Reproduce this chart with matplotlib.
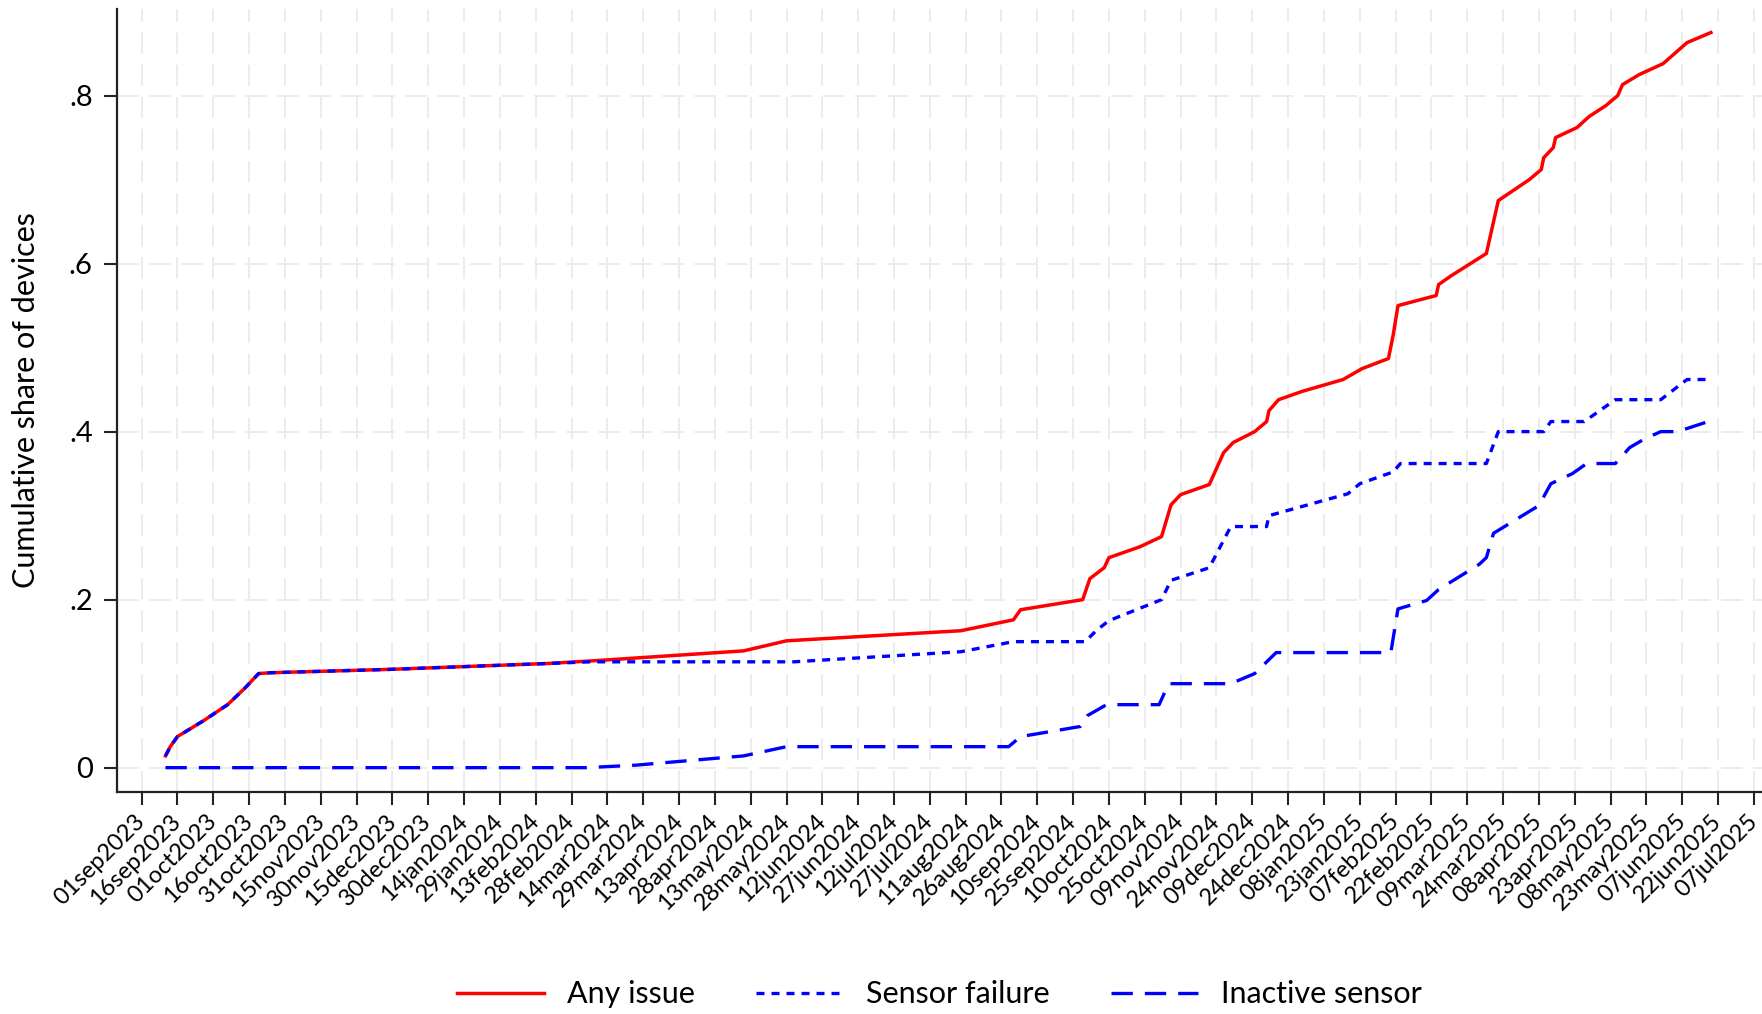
import matplotlib
matplotlib.use("Agg")
import matplotlib.pyplot as plt
import pandas as pd
from matplotlib.lines import Line2D

# Cumulative share of devices reporting each issue type
any_dates = [
    "2023-09-11", "2023-09-13", "2023-09-16", "2023-09-27", "2023-10-07", "2023-10-14",
    "2023-10-20", "2023-10-25", "2023-12-14", "2024-02-18", "2024-03-07", "2024-05-10",
    "2024-05-28", "2024-08-09", "2024-08-31", "2024-09-03", "2024-09-29", "2024-10-02",
    "2024-10-08", "2024-10-10", "2024-10-23", "2024-11-01", "2024-11-05", "2024-11-09",
    "2024-11-21", "2024-11-27", "2024-12-01", "2024-12-10", "2024-12-15", "2024-12-16",
    "2024-12-20", "2024-12-30", "2025-01-16", "2025-01-24", "2025-02-04", "2025-02-06",
    "2025-02-08", "2025-02-24", "2025-02-25", "2025-03-02", "2025-03-17", "2025-03-22",
    "2025-04-04", "2025-04-09", "2025-04-10", "2025-04-14", "2025-04-15", "2025-04-24",
    "2025-04-29", "2025-05-06", "2025-05-11", "2025-05-13", "2025-05-20", "2025-05-30",
    "2025-06-09", "2025-06-19",
]
any_share = [
    0.014, 0.025, 0.037, 0.056, 0.075, 0.094,
    0.112, 0.113, 0.117, 0.124, 0.127, 0.139,
    0.151, 0.163, 0.176, 0.188, 0.200, 0.225,
    0.238, 0.250, 0.263, 0.275, 0.313, 0.325,
    0.337, 0.375, 0.387, 0.400, 0.412, 0.425,
    0.438, 0.448, 0.462, 0.475, 0.487, 0.515,
    0.550, 0.562, 0.575, 0.585, 0.612, 0.675,
    0.700, 0.712, 0.726, 0.738, 0.750, 0.762,
    0.775, 0.788, 0.800, 0.813, 0.825, 0.838,
    0.863, 0.875,
]

failure_dates = [
    "2023-09-11", "2023-09-13", "2023-09-16", "2023-09-27", "2023-10-07", "2023-10-14",
    "2023-10-20", "2023-10-25", "2023-12-14", "2024-02-18", "2024-03-07", "2024-05-31",
    "2024-08-09", "2024-08-31", "2024-09-30", "2024-10-05", "2024-10-10", "2024-11-01",
    "2024-11-05", "2024-11-21", "2024-11-30", "2024-12-15", "2024-12-16", "2025-01-18",
    "2025-01-23", "2025-02-06", "2025-02-09", "2025-03-17", "2025-03-22", "2025-04-10",
    "2025-04-13", "2025-04-27", "2025-05-10", "2025-05-29", "2025-06-09", "2025-06-19",
]
failure_share = [
    0.014, 0.025, 0.037, 0.056, 0.075, 0.094,
    0.112, 0.113, 0.117, 0.124, 0.126, 0.126,
    0.138, 0.150, 0.150, 0.164, 0.175, 0.200,
    0.223, 0.238, 0.287, 0.287, 0.300, 0.326,
    0.338, 0.352, 0.362, 0.362, 0.400, 0.400,
    0.412, 0.412, 0.438, 0.438, 0.462, 0.462,
]

inactive_dates = [
    "2023-09-11", "2024-03-05", "2024-03-26", "2024-05-10", "2024-05-28", "2024-08-29",
    "2024-09-03", "2024-09-28", "2024-10-01", "2024-10-09", "2024-10-31", "2024-11-04",
    "2024-11-30", "2024-12-10", "2024-12-19", "2025-02-05", "2025-02-08", "2025-02-20",
    "2025-02-25", "2025-03-14", "2025-03-17", "2025-03-20", "2025-04-08", "2025-04-13",
    "2025-04-22", "2025-04-28", "2025-05-10", "2025-05-16", "2025-05-22", "2025-05-29",
    "2025-06-05", "2025-06-19",
]
inactive_share = [
    0.000, 0.000, 0.003, 0.014, 0.025, 0.025,
    0.037, 0.049, 0.062, 0.075, 0.075, 0.100,
    0.100, 0.112, 0.137, 0.137, 0.189, 0.199,
    0.212, 0.242, 0.250, 0.279, 0.312, 0.338,
    0.350, 0.362, 0.362, 0.381, 0.391, 0.400,
    0.400, 0.413,
]

series_labels = ["Any issue", "Sensor failure", "Inactive sensor"]
y_ticks = [0, 0.2, 0.4, 0.6, 0.8]
y_tick_labels = ["0", ".2", ".4", ".6", ".8"]
x_tick_start, x_tick_end = "2023-09-01", "2025-07-07"

plt.rcParams["font.family"] = ["Lato", "DejaVu Sans"]

fig = plt.figure(figsize=(17.62, 10.14), dpi=100)
ax = fig.add_axes([0.0664, 0.2189, 0.9336, 0.7722])

red = "#ff0000"
blue = "#0000ff"
dot_style = (0, (2.4, 2.1))
dash_style = (0, (6.4, 3.6))

ax.plot(pd.to_datetime(any_dates), any_share, color=red, lw=2.5,
        solid_joinstyle="round", zorder=3)
ax.plot(pd.to_datetime(failure_dates), failure_share, color=blue, lw=2.4,
        linestyle=dot_style, zorder=4)
ax.plot(pd.to_datetime(inactive_dates), inactive_share, color=blue, lw=2.4,
        linestyle=dash_style, zorder=4)

# Axes ranges
x0 = pd.Timestamp(x_tick_start) - pd.Timedelta(days=10.3)
x1 = pd.Timestamp(x_tick_start) + pd.Timedelta(days=678.4)
ax.set_xlim(x0, x1)
ax.set_ylim(-0.029, 0.903)

# Ticks
xt = pd.date_range(x_tick_start, x_tick_end, freq="15D")
ax.set_xticks(xt)
ax.set_xticklabels([d.strftime("%d%b%Y").lower() for d in xt], rotation=45,
                   ha="right", va="center", rotation_mode="anchor", fontsize=17)
ax.set_yticks(y_ticks)
ax.set_yticklabels(y_tick_labels, fontsize=21)
ax.tick_params(axis="both", direction="out", length=9.5, width=1.5, color="#222222")
ax.tick_params(axis="x", pad=9)
ax.tick_params(axis="y", pad=8)

# Grid
ax.grid(True, color="#ececec", lw=1.4, linestyle=(0, (11, 5.5)), zorder=0)
ax.set_axisbelow(True)

for s in ["top", "right"]:
    ax.spines[s].set_visible(False)
for s in ["left", "bottom"]:
    ax.spines[s].set_linewidth(1.6)
    ax.spines[s].set_color("#222222")

ax.set_ylabel("Cumulative share of devices", fontsize=22)
ax.yaxis.set_label_coords(-0.047, 0.5)

# Legend
handles = [
    Line2D([], [], color=red, lw=2.5),
    Line2D([], [], color=blue, lw=2.4, linestyle=dot_style),
    Line2D([], [], color=blue, lw=2.4, linestyle=dash_style),
]
fig.legend(handles, series_labels, loc="center", bbox_to_anchor=(0.533, 0.0195),
           ncol=3, frameon=False, fontsize=22, handlelength=2.85,
           handletextpad=0.75, columnspacing=2.0)

fig.savefig("out.png", dpi=100)
